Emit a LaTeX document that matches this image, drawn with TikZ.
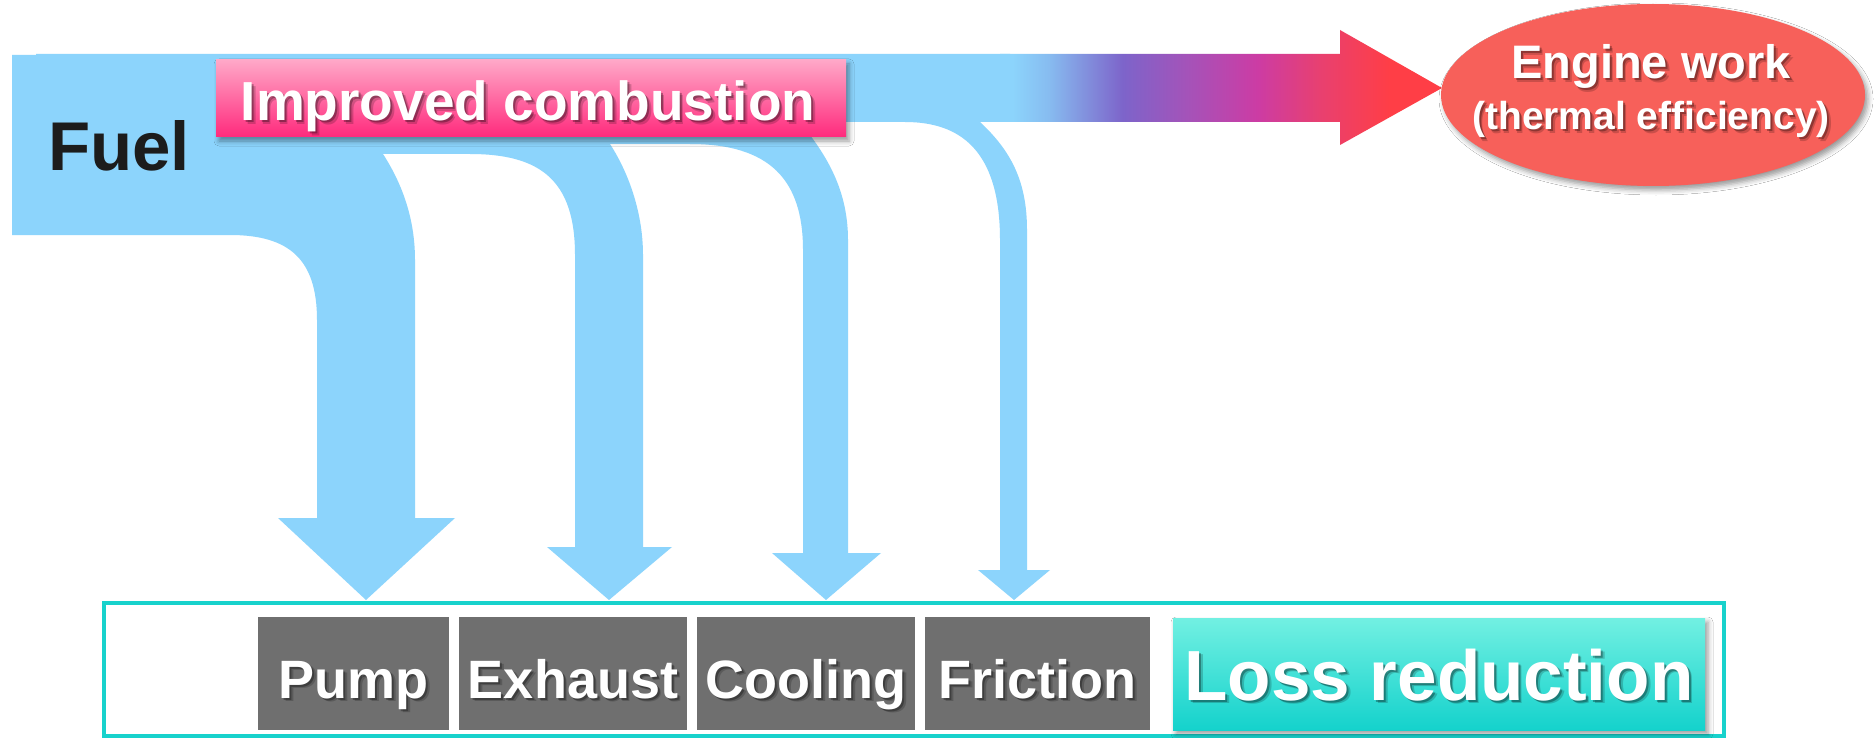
\documentclass[tikz,border=0pt]{standalone}
\usepackage{fontspec}
\setmainfont{Liberation Sans}
\usetikzlibrary{shapes.geometric,shadows.blur}

\definecolor{flow}{RGB}{140,212,252}
\definecolor{gA}{RGB}{135,188,240}
\definecolor{gB}{RGB}{125,100,202}
\definecolor{gC}{RGB}{166,82,184}
\definecolor{gD}{RGB}{204,60,164}
\definecolor{gE}{RGB}{232,64,112}
\definecolor{gF}{RGB}{255,62,70}
\definecolor{workred}{RGB}{247,96,90}
\definecolor{pinktop}{RGB}{255,168,200}
\definecolor{pinkbot}{RGB}{255,42,124}
\definecolor{lossgray}{RGB}{111,111,111}
\definecolor{tealtop}{RGB}{114,240,226}
\definecolor{tealbot}{RGB}{20,210,204}
\definecolor{frameteal}{RGB}{24,210,204}
\definecolor{fueltext}{RGB}{28,28,28}

% blue-to-red blend of the engine-work arrow
\pgfdeclarehorizontalshading{workgrad}{100bp}{%
  color(0bp)=(flow); color(26.4bp)=(flow); color(30.5bp)=(gA);
  color(38.9bp)=(gB); color(46.5bp)=(gC); color(54.1bp)=(gD);
  color(61.2bp)=(gE); color(69.1bp)=(gF); color(100bp)=(gF)}

\newcommand\pxsize[1]{\fontsize{#1}{#1}\selectfont}
% white bold label with a soft dark drop shadow (two faint layers)
\newcommand\whitelabel[4]{%
  \node[lbl, text=black, opacity=.18, xshift=3.5pt, yshift=-3.5pt] (#1shadowb) at (#2) {\pxsize{#3}#4};
  \node[lbl, text=black, opacity=.30, xshift=2pt, yshift=-2pt] (#1shadow) at (#2) {\pxsize{#3}#4};
  \node[lbl] (#1) at (#2) {\pxsize{#3}#4};}

\tikzset{
  lbl/.style={font=\bfseries, text=white, inner sep=0pt, anchor=base},
  lossbox/.style={fill=lossgray, draw=none, minimum height=113pt, inner sep=0pt},
  softshadow/.style={blur shadow={shadow xshift=3pt, shadow yshift=-4pt,
      shadow blur radius=5pt, shadow opacity=40}},
}

\begin{document}
\begin{tikzpicture}[x=1pt, y=-1pt]
\useasboundingbox (0,0) rectangle (1876,738);
\fill[white] (0,0) rectangle (1876,738);

% fuel flow and its four loss branches
\fill[flow] (12,55) -- (36,55) -- (36,54) -- (1010,54) -- (1010,122) -- (980,122)
  .. controls (1010,150) and (1027,180) .. (1027,230) -- (1027,570) -- (1050,570)
  -- (1014,600) -- (978,570) -- (1000,570) -- (1000,240)
  .. controls (1000,150) and (960,122) .. (905,122) -- (800,122)
  .. controls (822,150) and (848,185) .. (848,240) -- (848,553) -- (881,553)
  -- (826,600) -- (772,553) -- (803,553) -- (803,250)
  .. controls (803,180) and (770,144) .. (690,144) -- (610,144)
  .. controls (630,175) and (643,215) .. (643,255) -- (643,547) -- (672,547)
  -- (609,600) -- (547,547) -- (575,547) -- (575,255)
  .. controls (575,180) and (540,154) .. (470,154) -- (383,154)
  .. controls (403,185) and (415,220) .. (415,260) -- (415,518) -- (455,518)
  -- (366,600) -- (278,518) -- (317,518) -- (317,320)
  .. controls (317,260) and (290,235) .. (230,235) -- (12,235) -- cycle;

% engine work arrow
\shade[shading=workgrad] (1000,54) -- (1340,54) -- (1340,30) -- (1442,88)
  -- (1340,145) -- (1340,122) -- (1000,122) -- cycle;

% engine work ellipse
\node[ellipse, fill=workred, minimum width=424pt, minimum height=182pt,
      inner sep=0pt, softshadow] (work) at (1653,95) {};
\whitelabel{worktitle}{1651,79}{47}{Engine work}
\whitelabel{worksub}{1651,130}{39}{(thermal efficiency)}

% fuel label
\node[lbl, text=fueltext] (fuel) at (119,171) {\pxsize{69}Fuel};

% improved combustion banner
\node[rectangle, minimum width=630pt, minimum height=77pt, inner sep=0pt,
      top color=pinktop, bottom color=pinkbot, softshadow] (comb) at (531,98.5) {};
\whitelabel{combtext}{528,121}{55}{Improved combustion}

% loss frame
\draw[frameteal, line width=3.5pt] (104,603) rectangle (1724,736);

% loss categories
\node[lossbox, minimum width=191pt] (pump)     at (353.5,673.5) {};
\node[lossbox, minimum width=228pt] (exhaust)  at (573,673.5) {};
\node[lossbox, minimum width=218pt] (cooling)  at (806,673.5) {};
\node[lossbox, minimum width=225pt] (friction) at (1037.5,673.5) {};
\whitelabel{pumptext}{353.5,698}{54}{Pump}
\whitelabel{exhausttext}{573,698}{54}{Exhaust}
\whitelabel{coolingtext}{806,698}{54}{Cooling}
\whitelabel{frictiontext}{1037.5,698}{54}{Friction}

% loss reduction banner
\node[rectangle, minimum width=532pt, minimum height=112pt, inner sep=0pt,
      top color=tealtop, bottom color=tealbot, softshadow] (lossred) at (1439,674) {};
\whitelabel{lossredtext}{1439,700}{71}{Loss reduction}
\end{tikzpicture}
\end{document}
